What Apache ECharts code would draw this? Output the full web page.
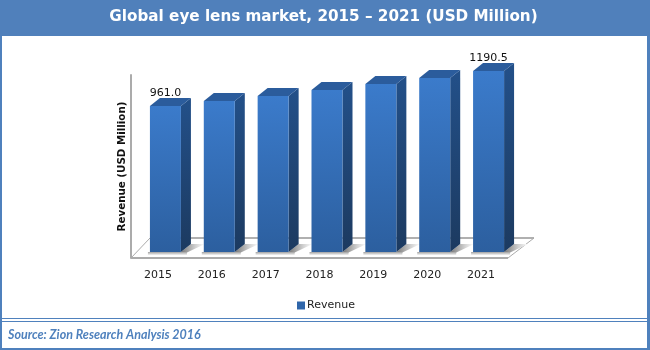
<!DOCTYPE html>
<html>
<head>
<meta charset="utf-8">
<title>Global eye lens market</title>
<script src="https://cdn.jsdelivr.net/npm/echarts@6/dist/echarts.min.js"></script>
<style>
html, body { margin: 0; padding: 0; background: #fff; }
#chart { width: 650px; height: 350px; }
</style>
</head>
<body>
<div id="chart"></div>
<script>
var years = ['2015', '2016', '2017', '2018', '2019', '2020', '2021'];
var revenue = [961.0, 994, 1027, 1066, 1105, 1145, 1190.5];
var dataLabels = ['961.0', '', '', '', '', '', '1190.5'];

var myChart = echarts.init(document.getElementById('chart'));
var blue = '#4f81bd';
var barW = 31;

function vGrad(a, b) {
    return new echarts.graphic.LinearGradient(0, 0, 0, 1, [
        { offset: 0, color: a }, { offset: 1, color: b }
    ]);
}

// front/side/top faces of one 3D bar, pushed back from the axis plane
function renderBar(params, api) {
    var i = api.value(0);
    var top = api.coord([i, api.value(1)]);
    var base = api.coord([i, 0]);
    var x = top[0] - 8, y0 = base[1] - 6, y1 = top[1] - 6;
    var dx = 10, dy = 8;
    var kids = [
        // shadow on the floor
        { type: 'polygon', shape: { points: [[x + barW, y0], [x + barW + dx, y0 - dy], [x + barW + dx + 14, y0 - dy], [x + barW + 5, y0 + 1]] },
          style: { fill: new echarts.graphic.LinearGradient(0, 0, 1, 0, [
              { offset: 0, color: '#777' }, { offset: 0.6, color: '#d0d0d0' }, { offset: 1, color: '#fff' }
          ]) } },
        { type: 'rect', shape: { x: x - 2, y: y0, width: barW + 8, height: 3 },
          style: { fill: vGrad('#a0a0a0', '#f4f4f4') } },
        { type: 'polygon', shape: { points: [[x + barW, y1], [x + barW + dx, y1 - dy], [x + barW + dx, y0 - dy], [x + barW, y0]] },
          style: { fill: vGrad('#235089', '#1c3a60') } },
        { type: 'polygon', shape: { points: [[x, y1], [x + dx, y1 - dy], [x + barW + dx, y1 - dy], [x + barW, y1]] },
          style: { fill: '#2b5c9c' } },
        { type: 'rect', shape: { x: x, y: y1, width: barW, height: y0 - y1 },
          style: { fill: vGrad('#3b7bcb', '#2c5f9f') } }
    ];
    if (dataLabels[i]) {
        kids.push({ type: 'text', style: {
            text: dataLabels[i], x: x + barW / 2, y: y1 - dy - 5,
            align: 'center', verticalAlign: 'middle',
            font: '11px "DejaVu Sans"', fill: '#111'
        } });
    }
    return { type: 'group', children: kids };
}

// floor of the 3D plot, built from the grid corners
function renderFloor(params, api) {
    var l = api.coord([0, 0]);
    var size = api.size([1, 0]);
    var x0 = l[0] - size[0] / 2;
    var x1 = x0 + size[0] * years.length;
    var y = l[1];
    return { type: 'group', children: [
        { type: 'polyline', shape: { points: [[x0, y], [x0 + 19, y - 20]] }, style: { stroke: '#ababab', fill: 'none', lineWidth: 1 } },
        { type: 'line', shape: { x1: x0 + 19, y1: y - 20, x2: x1 + 26, y2: y - 20 }, style: { stroke: '#b0b0b0', lineWidth: 2 } },
        { type: 'polyline', shape: { points: [[x1 + 26, y - 20], [x1, y]] }, style: { stroke: '#ababab', fill: 'none', lineWidth: 1 } },
        { type: 'line', shape: { x1: x0, y1: y, x2: x1, y2: y }, style: { stroke: '#ababab', lineWidth: 2 } }
    ] };
}

var option = {
    animation: false,
    backgroundColor: '#fff',
    title: [{
        text: 'Global eye lens market, 2015 \u2013 2021 (USD Million)',
        left: 323.5, top: 10, padding: 0, textAlign: 'center',
        textStyle: { color: '#fff', fontFamily: 'DejaVu Sans', fontWeight: 'bold', fontSize: 15.2 }
    }, {
        text: 'Source: Zion Research Analysis 2016',
        left: 8, top: 328, padding: 0,
        textStyle: { color: blue, fontFamily: 'Lato', fontStyle: 'italic', fontWeight: 'bold', fontSize: 12.5 }
    }],
    legend: {
        data: ['Revenue'],
        left: 292, top: 295,
        icon: 'rect', itemWidth: 8, itemHeight: 8, itemGap: 3,
        textStyle: { fontFamily: 'DejaVu Sans', fontSize: 11, color: '#222', padding: [0, 0, 0, -3] }
    },
    grid: { left: 131, right: 142, top: 75, bottom: 92 },
    xAxis: {
        type: 'category',
        data: years,
        axisLine: { show: false },
        axisTick: { show: false },
        axisLabel: { margin: 12, fontFamily: 'DejaVu Sans', fontSize: 11, color: '#222' }
    },
    yAxis: {
        type: 'value',
        min: 0,
        max: 1204,
        name: 'Revenue (USD Million)',
        nameLocation: 'middle',
        nameGap: 4,
        nameTextStyle: { fontFamily: 'DejaVu Sans', fontWeight: 'bold', fontSize: 10.3, color: '#111' },
        axisLine: { show: true, lineStyle: { color: '#ababab', width: 2 } },
        axisTick: { show: false },
        axisLabel: { show: false },
        splitLine: { show: false }
    },
    series: [{
        name: 'floor',
        type: 'custom',
        silent: true,
        z: 1,
        renderItem: renderFloor,
        encode: { x: 0, y: 1 },
        data: [[0, 0]]
    }, {
        name: 'Revenue',
        type: 'custom',
        z: 2,
        itemStyle: { color: '#2f66aa' },
        renderItem: renderBar,
        encode: { x: 0, y: 1 },
        data: revenue.map(function(v, i) { return [i, v]; })
    }],
    graphic: [
        { type: 'rect', z: 0, shape: { x: 0, y: 0, width: 650, height: 36 }, style: { fill: '#5080bb' } },
        { type: 'rect', z: 0, shape: { x: 0, y: 36, width: 2, height: 314 }, style: { fill: blue } },
        { type: 'rect', z: 0, shape: { x: 647, y: 36, width: 3, height: 314 }, style: { fill: blue } },
        { type: 'rect', z: 0, shape: { x: 0, y: 348, width: 650, height: 2 }, style: { fill: blue } },
        { type: 'rect', z: 0, shape: { x: 0, y: 318, width: 650, height: 1 }, style: { fill: blue } },
        { type: 'rect', z: 0, shape: { x: 0, y: 321, width: 650, height: 1 }, style: { fill: blue } }
    ]
};
myChart.setOption(option);
</script>
</body>
</html>
